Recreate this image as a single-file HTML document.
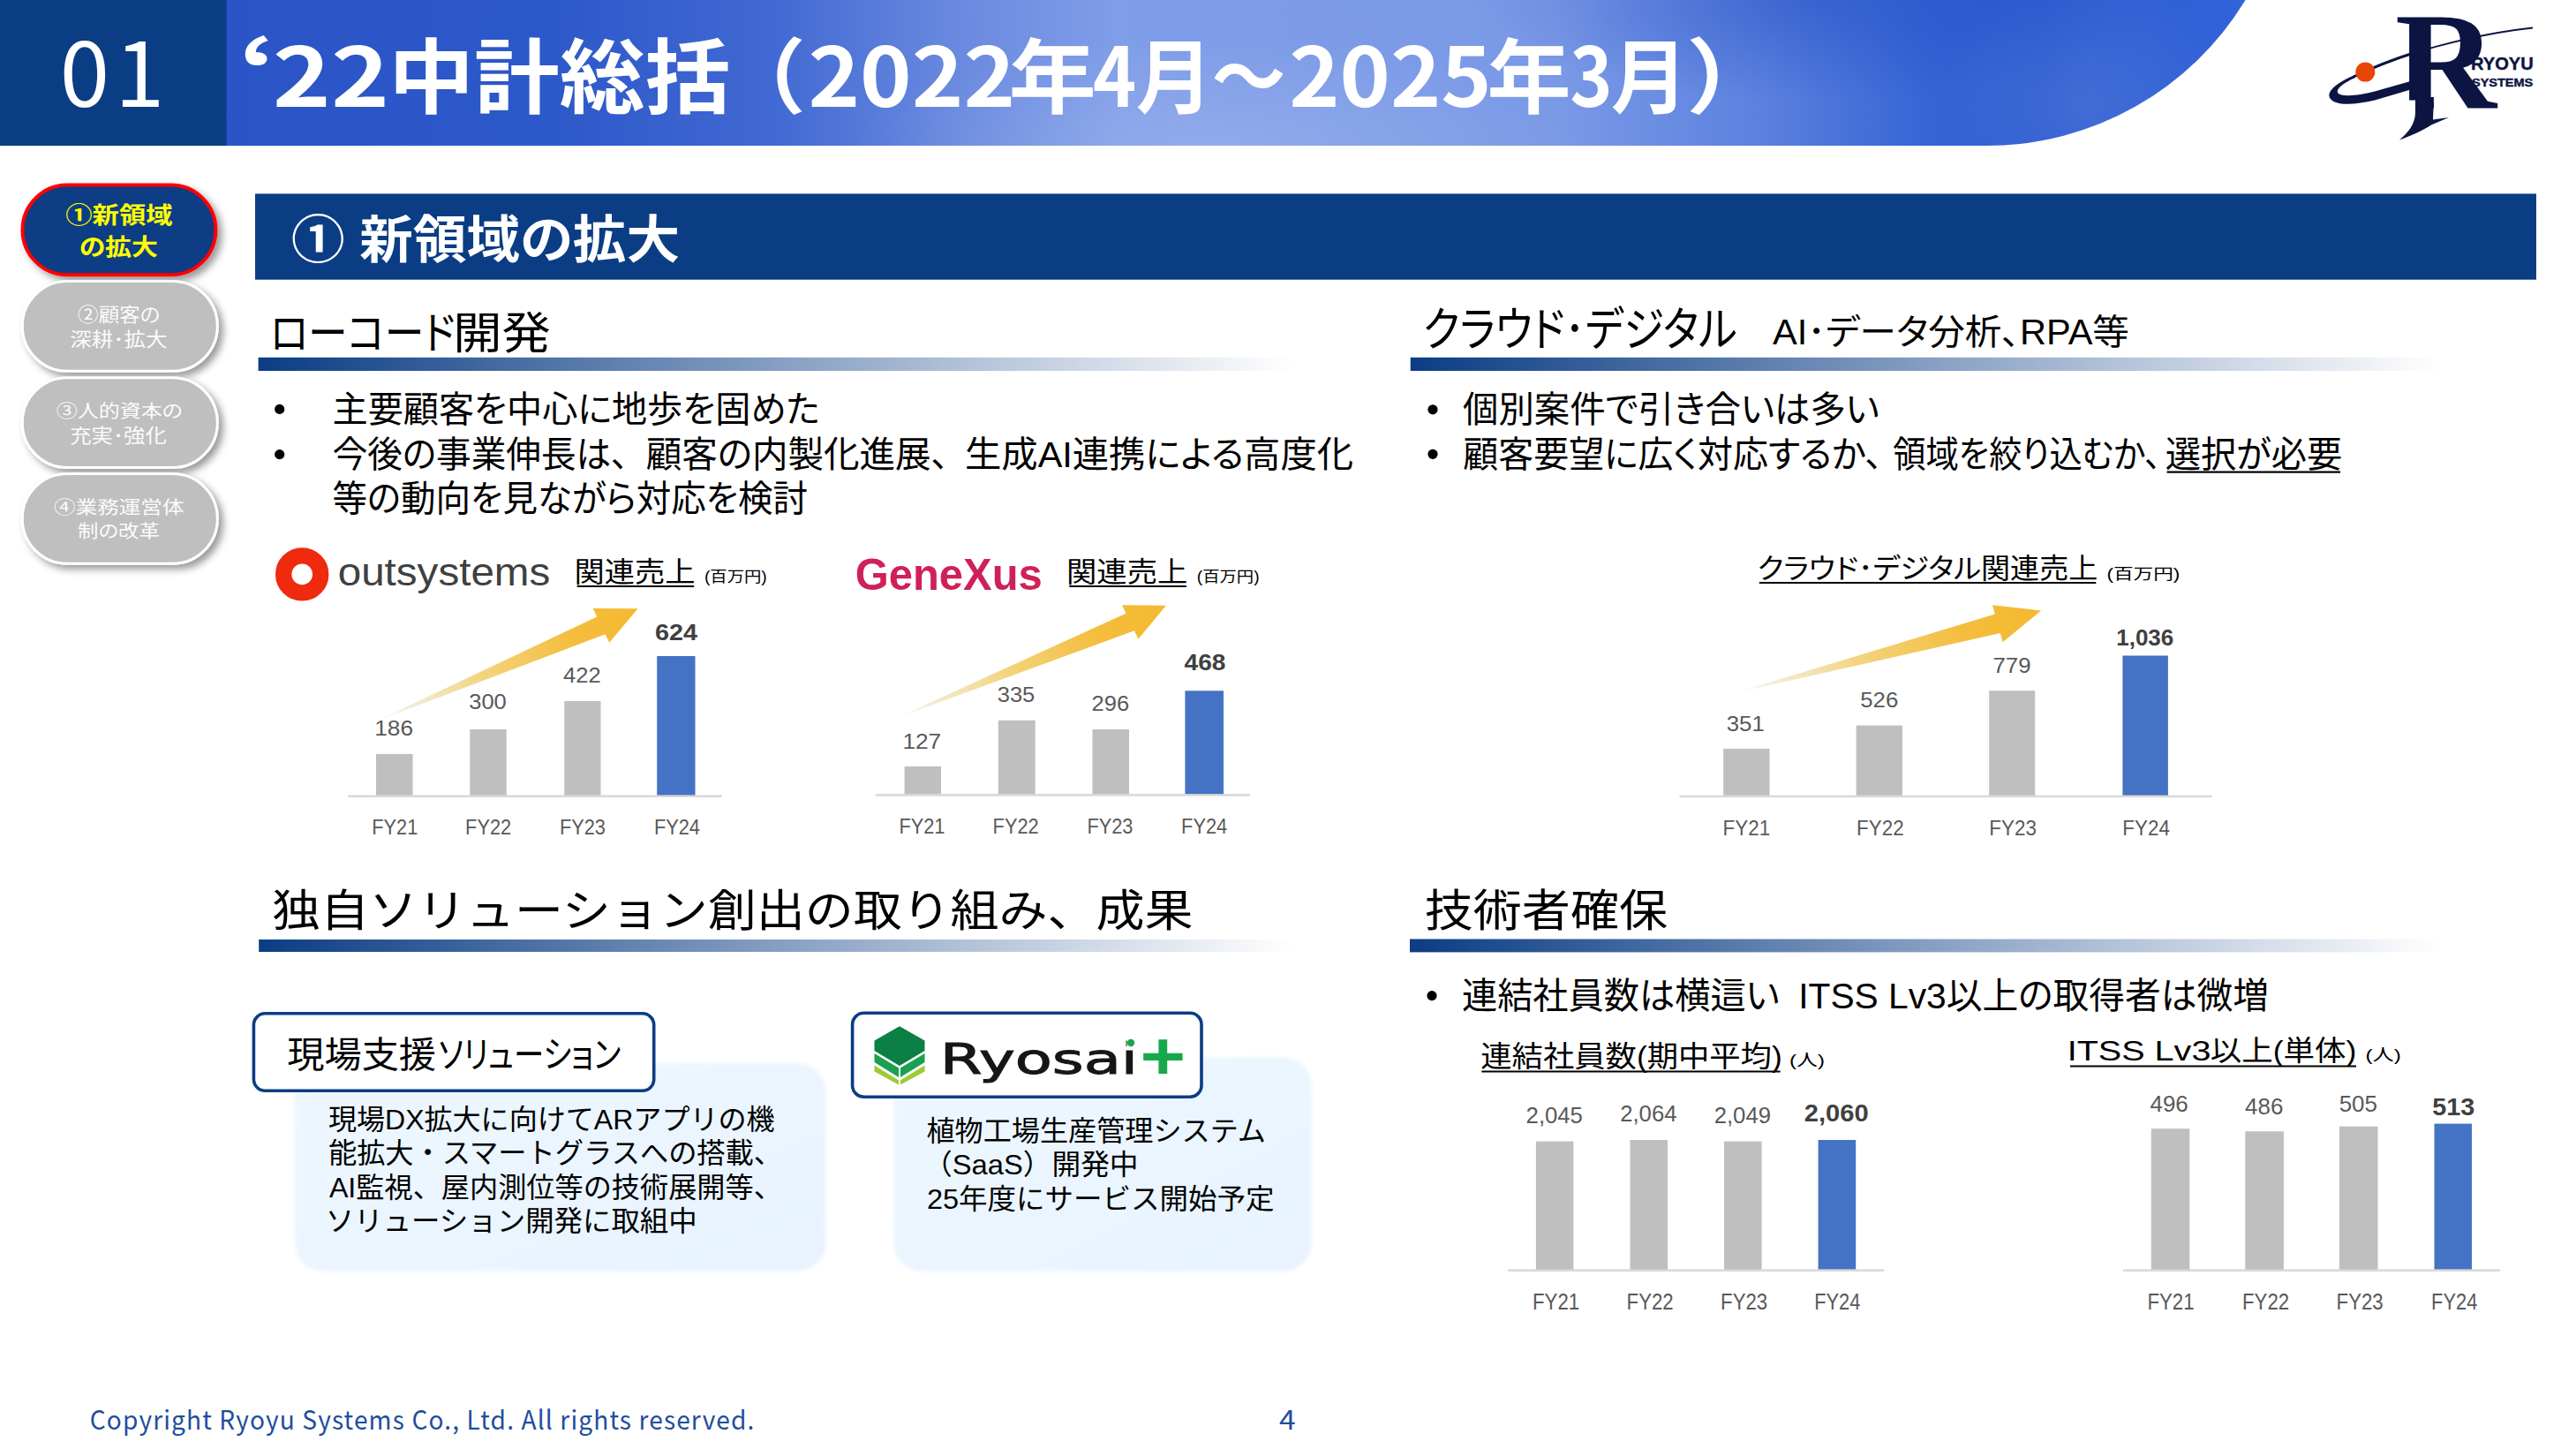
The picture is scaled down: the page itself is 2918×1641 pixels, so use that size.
<!DOCTYPE html>
<html lang="ja"><head><meta charset="utf-8"><title>'22中計総括</title>
<style>html,body{margin:0;padding:0;background:#fff;}body{width:2918px;height:1641px;overflow:hidden;}svg{display:block;}</style></head>
<body><svg width="2918" height="1641" viewBox="0 0 2918 1641">
<defs>
<linearGradient id="hg" x1="256" y1="0" x2="2545" y2="0" gradientUnits="userSpaceOnUse">
<stop offset="0" stop-color="#2b55c6"/><stop offset="0.16" stop-color="#2d58c9"/><stop offset="0.27" stop-color="#4169d3"/><stop offset="0.36" stop-color="#6989df"/>
<stop offset="0.44" stop-color="#7f9de8"/><stop offset="0.66" stop-color="#7a99e6"/><stop offset="0.76" stop-color="#5b81df"/><stop offset="0.84" stop-color="#3765d5"/>
<stop offset="0.9" stop-color="#2c5bd0"/><stop offset="1" stop-color="#3363d8"/>
</linearGradient>
<radialGradient id="hg2" cx="1380" cy="175" r="420" gradientUnits="userSpaceOnUse" gradientTransform="translate(1380 175) scale(1 0.32) translate(-1380 -175)">
<stop offset="0" stop-color="#ffffff" stop-opacity="0.16"/><stop offset="1" stop-color="#ffffff" stop-opacity="0"/>
</radialGradient>
<linearGradient id="rule" x1="0" y1="0" x2="1" y2="0">
<stop offset="0" stop-color="#0b3d84"/><stop offset="0.5" stop-color="#0b3d84" stop-opacity="0.5"/><stop offset="1" stop-color="#0b3d84" stop-opacity="0"/>
</linearGradient>
<linearGradient id="panel" x1="0" y1="0" x2="1" y2="1">
<stop offset="0" stop-color="#eef7ff"/><stop offset="1" stop-color="#e7f3ff"/>
</linearGradient>
<radialGradient id="hg3" cx="2050" cy="0" r="380" gradientUnits="userSpaceOnUse" gradientTransform="translate(2050 0) scale(1 0.3) translate(-2050 0)">
<stop offset="0" stop-color="#1c48c0" stop-opacity="0.45"/><stop offset="1" stop-color="#1c48c0" stop-opacity="0"/></radialGradient>
<radialGradient id="hg4" cx="2360" cy="120" r="160" gradientUnits="userSpaceOnUse">
<stop offset="0" stop-color="#ffffff" stop-opacity="0.10"/><stop offset="1" stop-color="#ffffff" stop-opacity="0"/></radialGradient>
<filter id="sh" x="-20%" y="-20%" width="150%" height="160%"><feDropShadow dx="5" dy="5" stdDeviation="4" flood-color="#000" flood-opacity="0.4"/></filter>
<filter id="soft" x="-5%" y="-5%" width="110%" height="110%"><feGaussianBlur stdDeviation="2.2"/></filter>
<filter id="blur1"><feGaussianBlur stdDeviation="0.7"/></filter>
</defs>
<rect x="0" y="0" width="2918" height="1641" fill="#ffffff" />
<path d="M0,0 H2543.5 A343,343 0 0 1 2250.7,165 H0 Z" fill="url(#hg)"/>
<path d="M0,0 H2543.5 A343,343 0 0 1 2250.7,165 H0 Z" fill="url(#hg2)"/>
<path d="M0,0 H2543.5 A343,343 0 0 1 2250.7,165 H0 Z" fill="url(#hg3)"/>
<path d="M0,0 H2543.5 A343,343 0 0 1 2250.7,165 H0 Z" fill="url(#hg4)"/>
<rect x="0" y="0" width="256.5" height="165" fill="#0b3d84" />
<text x="67.7" y="121.49" fill="#fff" textLength="124.7" lengthAdjust="spacingAndGlyphs" style="font-family:&quot;Noto Sans CJK JP&quot;,sans-serif;font-size:100.68px;font-weight:400;letter-spacing:6px;" >01</text>
<text y="121" fill="#fff" style="font-family:&quot;Noto Sans CJK JP&quot;,sans-serif;font-size:92.5px;font-weight:700;" ><tspan x="269.2" textLength="45.1" lengthAdjust="spacingAndGlyphs">‘</tspan><tspan x="308.8" textLength="132.2" lengthAdjust="spacingAndGlyphs">22</tspan><tspan x="440.3" textLength="387.1" lengthAdjust="spacingAndGlyphs">中計総括</tspan><tspan x="816.7" textLength="95.9" lengthAdjust="spacingAndGlyphs">（</tspan><tspan x="915.4" textLength="234.7" lengthAdjust="spacingAndGlyphs">2022</tspan><tspan x="1142.7" textLength="99.0" lengthAdjust="spacingAndGlyphs">年</tspan><tspan x="1238.0" textLength="49.3" lengthAdjust="spacingAndGlyphs">4</tspan><tspan x="1286.8" textLength="86.8" lengthAdjust="spacingAndGlyphs">月</tspan><tspan x="1372.4" textLength="83.8" lengthAdjust="spacingAndGlyphs">～</tspan><tspan x="1460.2" textLength="229.5" lengthAdjust="spacingAndGlyphs">2025</tspan><tspan x="1684.6" textLength="95.0" lengthAdjust="spacingAndGlyphs">年</tspan><tspan x="1778.4" textLength="48.1" lengthAdjust="spacingAndGlyphs">3</tspan><tspan x="1824.8" textLength="87.1" lengthAdjust="spacingAndGlyphs">月</tspan><tspan x="1910.1" textLength="105.7" lengthAdjust="spacingAndGlyphs">）</tspan></text>
<path d="M2869,31.5 C2800,39 2715,62 2666,87" fill="none" stroke="#0c1442" stroke-width="1.8"/>
<path d="M2740,58 C2715,66 2690,75 2666,87" fill="none" stroke="#0c1442" stroke-width="3"/>
<path d="M2734,91 L2690,103.5 C2672,108 2655,110 2649,106 C2645,102 2652,95 2668,88 L2666,85.5 C2645,95 2635,104 2639.5,111.5 C2646,120.5 2668,118.5 2690,113.5 L2734,100.5 Z" fill="#0c1442"/>
<text x="2712.9" y="122.5" fill="#0c1442" textLength="114.8" lengthAdjust="spacingAndGlyphs" style="font-family:&quot;Liberation Serif&quot;,serif;font-size:156.15px;font-weight:700;" >R</text>
<rect x="2710" y="113.5" width="26" height="12" fill="#fff" />
<rect x="2757" y="113.5" width="14" height="12" fill="#fff" />
<path d="M2736,110 L2757,110 L2756,135.5 L2774,133 L2754,141.5 C2744,148 2731,154 2718,158.5 C2728,150 2735.5,141 2736,128 Z" fill="#0c1442"/>
<circle cx="2679.3" cy="81.6" r="11" fill="#e8440a"/>
<text x="2799.0" y="79.2" fill="#0c1442" textLength="70.8" lengthAdjust="spacingAndGlyphs" style="font-family:&quot;Liberation Sans&quot;,sans-serif;font-size:20.42px;font-weight:700;stroke:#0c1442;stroke-width:0.4px;" >RYOYU</text>
<text x="2800.0" y="97.86" fill="#0c1442" textLength="69.3" lengthAdjust="spacingAndGlyphs" style="font-family:&quot;Liberation Sans&quot;,sans-serif;font-size:13.66px;font-weight:700;stroke:#0c1442;stroke-width:0.4px;" >SYSTEMS</text>
<rect x="25.5" y="209.6" width="218.9" height="101.6" rx="50.8" fill="#0b3d84" stroke="#ff0000" stroke-width="4" filter="url(#sh)"/>
<rect x="25.3" y="318.4" width="221.0" height="101.90000000000003" rx="50.95000000000002" fill="#bfbfbf" stroke="#ffffff" stroke-width="3" filter="url(#sh)"/>
<rect x="25.3" y="427.7" width="221.0" height="101.90000000000003" rx="50.95000000000002" fill="#bfbfbf" stroke="#ffffff" stroke-width="3" filter="url(#sh)"/>
<rect x="25.3" y="536.6" width="221.0" height="101.60000000000002" rx="50.80000000000001" fill="#bfbfbf" stroke="#ffffff" stroke-width="3" filter="url(#sh)"/>
<text x="74.3" y="253.22" fill="#ffff00" textLength="121.2" lengthAdjust="spacingAndGlyphs" style="font-family:&quot;Liberation Sans&quot;,&quot;Noto Sans CJK JP&quot;,sans-serif;font-size:25.83px;font-weight:700;font-feature-settings:'palt';" >①新領域</text>
<text x="89.7" y="289.42" fill="#ffff00" textLength="89.1" lengthAdjust="spacingAndGlyphs" style="font-family:&quot;Liberation Sans&quot;,&quot;Noto Sans CJK JP&quot;,sans-serif;font-size:25.79px;font-weight:700;font-feature-settings:'palt';" >の拡大</text>
<text x="88.1" y="364.08" fill="#fbfbfb" textLength="93.3" lengthAdjust="spacingAndGlyphs" style="font-family:&quot;Liberation Sans&quot;,&quot;Noto Sans CJK JP&quot;,sans-serif;font-size:21.28px;font-weight:400;font-feature-settings:'palt';" >②顧客の</text>
<text x="79.3" y="391.58" fill="#fbfbfb" textLength="110.2" lengthAdjust="spacingAndGlyphs" style="font-family:&quot;Liberation Sans&quot;,&quot;Noto Sans CJK JP&quot;,sans-serif;font-size:21.38px;font-weight:400;font-feature-settings:'palt';" >深耕･拡大</text>
<text x="63.7" y="472.73" fill="#fbfbfb" textLength="143.2" lengthAdjust="spacingAndGlyphs" style="font-family:&quot;Liberation Sans&quot;,&quot;Noto Sans CJK JP&quot;,sans-serif;font-size:20.74px;font-weight:400;font-feature-settings:'palt';" >③人的資本の</text>
<text x="79.2" y="500.6" fill="#fbfbfb" textLength="109.7" lengthAdjust="spacingAndGlyphs" style="font-family:&quot;Liberation Sans&quot;,&quot;Noto Sans CJK JP&quot;,sans-serif;font-size:21.06px;font-weight:400;font-feature-settings:'palt';" >充実･強化</text>
<text x="61.1" y="581.64" fill="#fbfbfb" textLength="147.4" lengthAdjust="spacingAndGlyphs" style="font-family:&quot;Liberation Sans&quot;,&quot;Noto Sans CJK JP&quot;,sans-serif;font-size:20.64px;font-weight:400;font-feature-settings:'palt';" >④業務運営体</text>
<text x="88.1" y="609.24" fill="#fbfbfb" textLength="92.8" lengthAdjust="spacingAndGlyphs" style="font-family:&quot;Liberation Sans&quot;,&quot;Noto Sans CJK JP&quot;,sans-serif;font-size:20.64px;font-weight:400;font-feature-settings:'palt';" >制の改革</text>
<rect x="289" y="219.4" width="2584" height="97.29999999999998" fill="#0b3d84" />
<text x="329.9" y="292.2" fill="#fff" textLength="440.1" lengthAdjust="spacingAndGlyphs" style="font-family:&quot;Liberation Sans&quot;,&quot;Noto Sans CJK JP&quot;,sans-serif;font-size:57.4px;font-weight:700;font-feature-settings:'palt';" >① 新領域の拡大</text>
<rect x="292.6" y="404.8" width="1172.4" height="15.199999999999989" fill="url(#rule)"/>
<rect x="1597.7" y="404.8" width="1167.3" height="15.199999999999989" fill="url(#rule)"/>
<rect x="293.2" y="1064" width="1171.8" height="14" fill="url(#rule)"/>
<rect x="1597" y="1063.5" width="1168" height="14.900000000000091" fill="url(#rule)"/>
<text y="394.6" fill="#000" style="font-family:&quot;Liberation Sans&quot;,&quot;Noto Sans CJK JP&quot;,sans-serif;font-size:50px;font-weight:400;font-feature-settings:'palt';" ><tspan x="305.8" textLength="209.7" lengthAdjust="spacingAndGlyphs">ローコード</tspan><tspan x="513.2" textLength="110.5" lengthAdjust="spacingAndGlyphs">開発</tspan></text>
<text x="1611.8" y="391.8" fill="#000" textLength="355.9" lengthAdjust="spacingAndGlyphs" style="font-family:&quot;Liberation Sans&quot;,&quot;Noto Sans CJK JP&quot;,sans-serif;font-size:53px;font-weight:400;font-feature-settings:'palt';" >クラウド･デジタル</text>
<text x="2008.0" y="390" fill="#000" textLength="403.9" lengthAdjust="spacingAndGlyphs" style="font-family:&quot;Liberation Sans&quot;,&quot;Noto Sans CJK JP&quot;,sans-serif;font-size:40px;font-weight:400;font-feature-settings:'palt';" >AI･データ分析、RPA等</text>
<text x="308.1" y="1049.4" fill="#000" textLength="1043.4" lengthAdjust="spacingAndGlyphs" style="font-family:&quot;Liberation Sans&quot;,&quot;Noto Sans CJK JP&quot;,sans-serif;font-size:50.5px;font-weight:400;" >独自ソリューション創出の取り組み、成果</text>
<text x="1613.7" y="1049.4" fill="#000" textLength="275.4" lengthAdjust="spacingAndGlyphs" style="font-family:&quot;Liberation Sans&quot;,&quot;Noto Sans CJK JP&quot;,sans-serif;font-size:50.5px;font-weight:400;" >技術者確保</text>
<text x="376.5" y="478.2" fill="#000" textLength="552.2" lengthAdjust="spacingAndGlyphs" style="font-family:&quot;Liberation Sans&quot;,&quot;Noto Sans CJK JP&quot;,sans-serif;font-size:41.2px;font-weight:400;font-feature-settings:'palt';" >主要顧客を中心に地歩を固めた</text>
<text y="528.7" fill="#000" style="font-family:&quot;Liberation Sans&quot;,&quot;Noto Sans CJK JP&quot;,sans-serif;font-size:41.2px;font-weight:400;font-feature-settings:'palt';" ><tspan x="376.7" textLength="335.3" lengthAdjust="spacingAndGlyphs">今後の事業伸長は、</tspan><tspan x="731.8" textLength="343.1" lengthAdjust="spacingAndGlyphs">顧客の内製化進展、</tspan><tspan x="1093.0" textLength="440.1" lengthAdjust="spacingAndGlyphs">生成AI連携による高度化</tspan></text>
<text x="376.5" y="579.1" fill="#000" textLength="538.6" lengthAdjust="spacingAndGlyphs" style="font-family:&quot;Liberation Sans&quot;,&quot;Noto Sans CJK JP&quot;,sans-serif;font-size:41.2px;font-weight:400;font-feature-settings:'palt';" >等の動向を見ながら対応を検討</text>
<circle cx="316.7" cy="463.4" r="5.6" fill="#000"/>
<circle cx="316.7" cy="514.6" r="5.6" fill="#000"/>
<text x="1657.0" y="478" fill="#000" textLength="471.9" lengthAdjust="spacingAndGlyphs" style="font-family:&quot;Liberation Sans&quot;,&quot;Noto Sans CJK JP&quot;,sans-serif;font-size:41.2px;font-weight:400;font-feature-settings:'palt';" >個別案件で引き合いは多い</text>
<text y="528.7" fill="#000" style="font-family:&quot;Liberation Sans&quot;,&quot;Noto Sans CJK JP&quot;,sans-serif;font-size:41.2px;font-weight:400;font-feature-settings:'palt';" ><tspan x="1657.3" textLength="475.4" lengthAdjust="spacingAndGlyphs">顧客要望に広く対応するか、</tspan><tspan x="2144.2" textLength="303.9" lengthAdjust="spacingAndGlyphs">領域を絞り込むか、</tspan><tspan x="2452.7" textLength="200.5" lengthAdjust="spacingAndGlyphs">選択が必要</tspan></text>
<rect x="2454.6" y="533.5" width="196.4000000000001" height="2.2" fill="#000" />
<circle cx="1623" cy="463.8" r="5.6" fill="#000"/>
<circle cx="1623" cy="514.3" r="5.6" fill="#000"/>
<text y="1141.7" fill="#000" style="font-family:&quot;Liberation Sans&quot;,&quot;Noto Sans CJK JP&quot;,sans-serif;font-size:41.2px;font-weight:400;font-feature-settings:'palt';" ><tspan x="1655.9" textLength="359.9" lengthAdjust="spacingAndGlyphs">連結社員数は横這い</tspan><tspan x="2037.2" textLength="532.8" lengthAdjust="spacingAndGlyphs">ITSS Lv3以上の取得者は微増</tspan></text>
<circle cx="1622" cy="1127.6" r="5.6" fill="#000"/>
<circle cx="342.2" cy="650.4" r="21" fill="none" stroke="#ef2a0e" stroke-width="18.4"/>
<text x="382.7" y="663" fill="#404040" textLength="240.6" lengthAdjust="spacingAndGlyphs" style="font-family:&quot;Liberation Sans&quot;,sans-serif;font-size:43.5px;font-weight:400;" >outsystems</text>
<text x="968.8" y="667.7" fill="#cf2158" textLength="211.9" lengthAdjust="spacingAndGlyphs" style="font-family:&quot;Liberation Sans&quot;,sans-serif;font-size:49.9px;font-weight:700;" >GeneXus</text>
<text x="650.4" y="659.1" fill="#000" textLength="137.1" lengthAdjust="spacingAndGlyphs" style="font-family:&quot;Liberation Sans&quot;,&quot;Noto Sans CJK JP&quot;,sans-serif;font-size:31.3px;font-weight:400;font-feature-settings:'palt';" >関連売上</text>
<rect x="653.7" y="663" width="132.5" height="2" fill="#000" />
<text x="797.9" y="659.2" fill="#000" textLength="70.9" lengthAdjust="spacingAndGlyphs" style="font-family:&quot;Liberation Sans&quot;,&quot;Noto Sans CJK JP&quot;,sans-serif;font-size:17.5px;font-weight:400;" >(百万円)</text>
<text x="1208.0" y="659.1" fill="#000" textLength="137.3" lengthAdjust="spacingAndGlyphs" style="font-family:&quot;Liberation Sans&quot;,&quot;Noto Sans CJK JP&quot;,sans-serif;font-size:31.3px;font-weight:400;font-feature-settings:'palt';" >関連売上</text>
<rect x="1211.3" y="663" width="132.70000000000005" height="2" fill="#000" />
<text x="1355.7" y="659.2" fill="#000" textLength="70.9" lengthAdjust="spacingAndGlyphs" style="font-family:&quot;Liberation Sans&quot;,&quot;Noto Sans CJK JP&quot;,sans-serif;font-size:17.5px;font-weight:400;" >(百万円)</text>
<text x="1990.7" y="654.8" fill="#000" textLength="385.6" lengthAdjust="spacingAndGlyphs" style="font-family:&quot;Liberation Sans&quot;,&quot;Noto Sans CJK JP&quot;,sans-serif;font-size:31.3px;font-weight:400;font-feature-settings:'palt';" >クラウド･デジタル関連売上</text>
<rect x="1992.8" y="659" width="381.5000000000002" height="2" fill="#000" />
<text x="2386.4" y="655.5" fill="#000" textLength="83.0" lengthAdjust="spacingAndGlyphs" style="font-family:&quot;Liberation Sans&quot;,&quot;Noto Sans CJK JP&quot;,sans-serif;font-size:17.5px;font-weight:400;" >(百万円)</text>
<text x="1677.3" y="1207.5" fill="#000" textLength="341.4" lengthAdjust="spacingAndGlyphs" style="font-family:&quot;Liberation Sans&quot;,&quot;Noto Sans CJK JP&quot;,sans-serif;font-size:33px;font-weight:400;font-feature-settings:'palt';" >連結社員数(期中平均)</text>
<rect x="1678.4" y="1212.5" width="338.1999999999998" height="2" fill="#000" />
<text x="2027.1" y="1207" fill="#000" textLength="39.8" lengthAdjust="spacingAndGlyphs" style="font-family:&quot;Liberation Sans&quot;,&quot;Noto Sans CJK JP&quot;,sans-serif;font-size:18.5px;font-weight:400;" >(人)</text>
<text y="1200.5" fill="#000" style="font-family:&quot;Liberation Sans&quot;,&quot;Noto Sans CJK JP&quot;,sans-serif;font-size:32px;font-weight:400;font-feature-settings:'palt';" ><tspan x="2341.7" textLength="162.7" lengthAdjust="spacingAndGlyphs">ITSS Lv3</tspan><tspan x="2503.7" textLength="165.7" lengthAdjust="spacingAndGlyphs">以上(単体)</tspan></text>
<rect x="2345" y="1206.5" width="324" height="2" fill="#000" />
<text x="2679.4" y="1201" fill="#000" textLength="40.3" lengthAdjust="spacingAndGlyphs" style="font-family:&quot;Liberation Sans&quot;,&quot;Noto Sans CJK JP&quot;,sans-serif;font-size:18.5px;font-weight:400;" >(人)</text>
<defs><linearGradient id="ag1" gradientUnits="userSpaceOnUse" x1="423.7" y1="817.8" x2="722.5" y2="689.3"><stop offset="0" stop-color="#e9e7d5" stop-opacity="0"/><stop offset="0.14" stop-color="#ece6c8" stop-opacity="0.75"/><stop offset="0.4" stop-color="#f3d27a" stop-opacity="0.95"/><stop offset="0.75" stop-color="#f4bd3c"/><stop offset="1" stop-color="#f4b92f"/></linearGradient></defs>
<polygon points="423.7,817.8 676.2,698.4 671.6,688.9 722.5,689.3 690.2,727.8 685.6,718.3" fill="url(#ag1)"/>
<rect x="426" y="853.9" width="41.5" height="47.7" fill="#bfbfbf" />
<rect x="532.3" y="826" width="41.4" height="75.6" fill="#bfbfbf" />
<rect x="639.3" y="794" width="41.2" height="107.6" fill="#bfbfbf" />
<rect x="744.2" y="743" width="43.3" height="158.6" fill="#4472c4" />
<rect x="394" y="900.4" width="423.6" height="2.6" fill="#d9d9d9" />
<text x="424.2" y="832.9" fill="#595959" textLength="43.8" lengthAdjust="spacingAndGlyphs" style="font-family:&quot;Liberation Sans&quot;,sans-serif;font-size:23.8px;font-weight:400;" >186</text>
<text x="421.2" y="944.8" fill="#595959" textLength="52.1" lengthAdjust="spacingAndGlyphs" style="font-family:&quot;Liberation Sans&quot;,sans-serif;font-size:24.2px;font-weight:400;" >FY21</text>
<text x="531.2" y="803.2" fill="#595959" textLength="42.6" lengthAdjust="spacingAndGlyphs" style="font-family:&quot;Liberation Sans&quot;,sans-serif;font-size:23.8px;font-weight:400;" >300</text>
<text x="527.1" y="944.8" fill="#595959" textLength="52.1" lengthAdjust="spacingAndGlyphs" style="font-family:&quot;Liberation Sans&quot;,sans-serif;font-size:24.2px;font-weight:400;" >FY22</text>
<text x="638.0" y="773" fill="#595959" textLength="42.6" lengthAdjust="spacingAndGlyphs" style="font-family:&quot;Liberation Sans&quot;,sans-serif;font-size:23.8px;font-weight:400;" >422</text>
<text x="633.9" y="944.8" fill="#595959" textLength="52.1" lengthAdjust="spacingAndGlyphs" style="font-family:&quot;Liberation Sans&quot;,sans-serif;font-size:24.2px;font-weight:400;" >FY23</text>
<text x="742.1" y="725" fill="#404040" textLength="48.0" lengthAdjust="spacingAndGlyphs" style="font-family:&quot;Liberation Sans&quot;,sans-serif;font-size:26.0px;font-weight:700;" >624</text>
<text x="740.9" y="944.8" fill="#595959" textLength="52.1" lengthAdjust="spacingAndGlyphs" style="font-family:&quot;Liberation Sans&quot;,sans-serif;font-size:24.2px;font-weight:400;" >FY24</text>
<defs><linearGradient id="ag2" gradientUnits="userSpaceOnUse" x1="1012" y1="814.5" x2="1320.9" y2="685.8"><stop offset="0" stop-color="#e9e7d5" stop-opacity="0"/><stop offset="0.14" stop-color="#ece6c8" stop-opacity="0.75"/><stop offset="0.4" stop-color="#f3d27a" stop-opacity="0.95"/><stop offset="0.75" stop-color="#f4bd3c"/><stop offset="1" stop-color="#f4b92f"/></linearGradient></defs>
<polygon points="1012.0,814.5 1275.5,694.7 1271.0,685.2 1320.9,685.8 1289.4,723.8 1284.9,714.3" fill="url(#ag2)"/>
<rect x="1024.6" y="868" width="41.4" height="32.3" fill="#bfbfbf" />
<rect x="1130.8" y="815.8" width="41.9" height="84.5" fill="#bfbfbf" />
<rect x="1237.5" y="826" width="41.5" height="74.3" fill="#bfbfbf" />
<rect x="1342.4" y="782.3" width="43.6" height="118.0" fill="#4472c4" />
<rect x="991.8" y="899.0999999999999" width="424.20000000000005" height="2.6" fill="#d9d9d9" />
<text x="1022.4" y="847.8" fill="#595959" textLength="43.8" lengthAdjust="spacingAndGlyphs" style="font-family:&quot;Liberation Sans&quot;,sans-serif;font-size:23.8px;font-weight:400;" >127</text>
<text x="1018.4" y="944" fill="#595959" textLength="52.1" lengthAdjust="spacingAndGlyphs" style="font-family:&quot;Liberation Sans&quot;,sans-serif;font-size:24.2px;font-weight:400;" >FY21</text>
<text x="1129.7" y="795.4" fill="#595959" textLength="42.6" lengthAdjust="spacingAndGlyphs" style="font-family:&quot;Liberation Sans&quot;,sans-serif;font-size:23.8px;font-weight:400;" >335</text>
<text x="1124.6" y="944" fill="#595959" textLength="52.1" lengthAdjust="spacingAndGlyphs" style="font-family:&quot;Liberation Sans&quot;,sans-serif;font-size:24.2px;font-weight:400;" >FY22</text>
<text x="1236.5" y="805.3" fill="#595959" textLength="42.6" lengthAdjust="spacingAndGlyphs" style="font-family:&quot;Liberation Sans&quot;,sans-serif;font-size:23.8px;font-weight:400;" >296</text>
<text x="1231.4" y="944" fill="#595959" textLength="52.1" lengthAdjust="spacingAndGlyphs" style="font-family:&quot;Liberation Sans&quot;,sans-serif;font-size:24.2px;font-weight:400;" >FY23</text>
<text x="1341.5" y="759.4" fill="#404040" textLength="46.9" lengthAdjust="spacingAndGlyphs" style="font-family:&quot;Liberation Sans&quot;,sans-serif;font-size:26.0px;font-weight:700;" >468</text>
<text x="1338.1" y="944" fill="#595959" textLength="52.1" lengthAdjust="spacingAndGlyphs" style="font-family:&quot;Liberation Sans&quot;,sans-serif;font-size:24.2px;font-weight:400;" >FY24</text>
<defs><linearGradient id="ag3" gradientUnits="userSpaceOnUse" x1="1962" y1="785.6" x2="2312.2" y2="691.4"><stop offset="0" stop-color="#e9e7d5" stop-opacity="0"/><stop offset="0.14" stop-color="#ece6c8" stop-opacity="0.75"/><stop offset="0.4" stop-color="#f3d27a" stop-opacity="0.95"/><stop offset="0.75" stop-color="#f4bd3c"/><stop offset="1" stop-color="#f4b92f"/></linearGradient></defs>
<polygon points="1962.0,785.6 2259.8,695.5 2256.9,685.2 2312.2,691.4 2268.6,727.2 2265.7,716.9" fill="url(#ag3)"/>
<rect x="1952.2" y="847.9" width="52.3" height="53.9" fill="#bfbfbf" />
<rect x="2102.6" y="821.6" width="52.3" height="80.2" fill="#bfbfbf" />
<rect x="2253.2" y="782.2" width="52.0" height="119.6" fill="#bfbfbf" />
<rect x="2404.4" y="742.5" width="51.5" height="159.3" fill="#4472c4" />
<rect x="1902.5" y="900.5999999999999" width="603.0999999999999" height="2.6" fill="#d9d9d9" />
<text x="1955.7" y="827.8" fill="#595959" textLength="43.1" lengthAdjust="spacingAndGlyphs" style="font-family:&quot;Liberation Sans&quot;,sans-serif;font-size:23.8px;font-weight:400;" >351</text>
<text x="1951.5" y="946" fill="#595959" textLength="53.6" lengthAdjust="spacingAndGlyphs" style="font-family:&quot;Liberation Sans&quot;,sans-serif;font-size:24.2px;font-weight:400;" >FY21</text>
<text x="2107.2" y="801.2" fill="#595959" textLength="43.1" lengthAdjust="spacingAndGlyphs" style="font-family:&quot;Liberation Sans&quot;,sans-serif;font-size:23.8px;font-weight:400;" >526</text>
<text x="2103.0" y="946" fill="#595959" textLength="53.6" lengthAdjust="spacingAndGlyphs" style="font-family:&quot;Liberation Sans&quot;,sans-serif;font-size:24.2px;font-weight:400;" >FY22</text>
<text x="2257.5" y="761.5" fill="#595959" textLength="43.1" lengthAdjust="spacingAndGlyphs" style="font-family:&quot;Liberation Sans&quot;,sans-serif;font-size:23.8px;font-weight:400;" >779</text>
<text x="2253.3" y="946" fill="#595959" textLength="53.6" lengthAdjust="spacingAndGlyphs" style="font-family:&quot;Liberation Sans&quot;,sans-serif;font-size:24.2px;font-weight:400;" >FY23</text>
<text x="2397.2" y="731.4" fill="#404040" textLength="65.1" lengthAdjust="spacingAndGlyphs" style="font-family:&quot;Liberation Sans&quot;,sans-serif;font-size:26.0px;font-weight:700;" >1,036</text>
<text x="2404.3" y="946" fill="#595959" textLength="53.6" lengthAdjust="spacingAndGlyphs" style="font-family:&quot;Liberation Sans&quot;,sans-serif;font-size:24.2px;font-weight:400;" >FY24</text>
<rect x="1739.9" y="1292.6" width="42.5" height="146.0" fill="#bfbfbf" />
<rect x="1846.5" y="1291" width="42.5" height="147.6" fill="#bfbfbf" />
<rect x="1953" y="1292.6" width="42.6" height="146.0" fill="#bfbfbf" />
<rect x="2059.6" y="1291" width="42.6" height="147.6" fill="#4472c4" />
<rect x="1708.1" y="1437.3999999999999" width="426.3000000000002" height="2.6" fill="#d9d9d9" />
<text x="1728.6" y="1271.8" fill="#595959" textLength="64.3" lengthAdjust="spacingAndGlyphs" style="font-family:&quot;Liberation Sans&quot;,sans-serif;font-size:25.5px;font-weight:400;" >2,045</text>
<text x="1736.0" y="1482.8" fill="#595959" textLength="53.1" lengthAdjust="spacingAndGlyphs" style="font-family:&quot;Liberation Sans&quot;,sans-serif;font-size:25.2px;font-weight:400;" >FY21</text>
<text x="1835.2" y="1270" fill="#595959" textLength="64.3" lengthAdjust="spacingAndGlyphs" style="font-family:&quot;Liberation Sans&quot;,sans-serif;font-size:25.5px;font-weight:400;" >2,064</text>
<text x="1842.6" y="1482.8" fill="#595959" textLength="53.1" lengthAdjust="spacingAndGlyphs" style="font-family:&quot;Liberation Sans&quot;,sans-serif;font-size:25.2px;font-weight:400;" >FY22</text>
<text x="1941.7" y="1271.8" fill="#595959" textLength="64.3" lengthAdjust="spacingAndGlyphs" style="font-family:&quot;Liberation Sans&quot;,sans-serif;font-size:25.5px;font-weight:400;" >2,049</text>
<text x="1949.1" y="1482.8" fill="#595959" textLength="53.1" lengthAdjust="spacingAndGlyphs" style="font-family:&quot;Liberation Sans&quot;,sans-serif;font-size:25.2px;font-weight:400;" >FY23</text>
<text x="2043.8" y="1270" fill="#404040" textLength="72.9" lengthAdjust="spacingAndGlyphs" style="font-family:&quot;Liberation Sans&quot;,sans-serif;font-size:27.7px;font-weight:700;" >2,060</text>
<text x="2055.2" y="1482.8" fill="#595959" textLength="52.2" lengthAdjust="spacingAndGlyphs" style="font-family:&quot;Liberation Sans&quot;,sans-serif;font-size:25.2px;font-weight:400;" >FY24</text>
<rect x="2436.8" y="1278.2" width="43.5" height="160.4" fill="#bfbfbf" />
<rect x="2543.3" y="1281.3" width="43.6" height="157.3" fill="#bfbfbf" />
<rect x="2649.9" y="1275.7" width="43.6" height="162.9" fill="#bfbfbf" />
<rect x="2757.5" y="1272.6" width="42.5" height="166.0" fill="#4472c4" />
<rect x="2405" y="1437.3999999999999" width="426.9000000000001" height="2.6" fill="#d9d9d9" />
<text x="2435.5" y="1259.3" fill="#595959" textLength="43.3" lengthAdjust="spacingAndGlyphs" style="font-family:&quot;Liberation Sans&quot;,sans-serif;font-size:25px;font-weight:400;" >496</text>
<text x="2432.4" y="1482.8" fill="#595959" textLength="53.1" lengthAdjust="spacingAndGlyphs" style="font-family:&quot;Liberation Sans&quot;,sans-serif;font-size:25.2px;font-weight:400;" >FY21</text>
<text x="2543.1" y="1261.8" fill="#595959" textLength="43.3" lengthAdjust="spacingAndGlyphs" style="font-family:&quot;Liberation Sans&quot;,sans-serif;font-size:25px;font-weight:400;" >486</text>
<text x="2540.0" y="1482.8" fill="#595959" textLength="53.1" lengthAdjust="spacingAndGlyphs" style="font-family:&quot;Liberation Sans&quot;,sans-serif;font-size:25.2px;font-weight:400;" >FY22</text>
<text x="2649.7" y="1258.5" fill="#595959" textLength="43.3" lengthAdjust="spacingAndGlyphs" style="font-family:&quot;Liberation Sans&quot;,sans-serif;font-size:25px;font-weight:400;" >505</text>
<text x="2646.6" y="1482.8" fill="#595959" textLength="53.1" lengthAdjust="spacingAndGlyphs" style="font-family:&quot;Liberation Sans&quot;,sans-serif;font-size:25.2px;font-weight:400;" >FY23</text>
<text x="2755.2" y="1262.9" fill="#404040" textLength="48.0" lengthAdjust="spacingAndGlyphs" style="font-family:&quot;Liberation Sans&quot;,sans-serif;font-size:27.2px;font-weight:700;" >513</text>
<text x="2754.1" y="1482.8" fill="#595959" textLength="52.2" lengthAdjust="spacingAndGlyphs" style="font-family:&quot;Liberation Sans&quot;,sans-serif;font-size:25.2px;font-weight:400;" >FY24</text>
<rect x="333.8" y="1204" width="601.6" height="235.8" rx="32" fill="url(#panel)" filter="url(#soft)"/>
<rect x="1012.2" y="1197.7" width="473.5" height="242.1" rx="32" fill="url(#panel)" filter="url(#soft)"/>
<rect x="287.4" y="1147.8" width="453.3" height="87.5" rx="13" fill="#fff" stroke="#0b3d84" stroke-width="3.6"/>
<rect x="965.6" y="1147.3" width="395.4" height="94.9" rx="13" fill="#fff" stroke="#0b3d84" stroke-width="3.6"/>
<text y="1209.2" fill="#000" style="font-family:&quot;Liberation Sans&quot;,&quot;Noto Sans CJK JP&quot;,sans-serif;font-size:41.4px;font-weight:400;font-feature-settings:'palt';" ><tspan x="325.2" textLength="168.9" lengthAdjust="spacingAndGlyphs">現場支援</tspan><tspan x="496.6" textLength="206.5" lengthAdjust="spacingAndGlyphs">ソリューション</tspan></text>
<text x="371.9" y="1278.9" fill="#000" textLength="505.7" lengthAdjust="spacingAndGlyphs" style="font-family:&quot;Liberation Sans&quot;,&quot;Noto Sans CJK JP&quot;,sans-serif;font-size:32px;font-weight:400;" >現場DX拡大に向けてARアプリの機</text>
<text x="371.9" y="1317.2" fill="#000" textLength="514.2" lengthAdjust="spacingAndGlyphs" style="font-family:&quot;Liberation Sans&quot;,&quot;Noto Sans CJK JP&quot;,sans-serif;font-size:32px;font-weight:400;" >能拡大・スマートグラスへの搭載、</text>
<text x="372.9" y="1355.5" fill="#000" textLength="513.0" lengthAdjust="spacingAndGlyphs" style="font-family:&quot;Liberation Sans&quot;,&quot;Noto Sans CJK JP&quot;,sans-serif;font-size:32px;font-weight:400;" >AI監視、屋内測位等の技術展開等、</text>
<text x="368.8" y="1393.8" fill="#000" textLength="420.9" lengthAdjust="spacingAndGlyphs" style="font-family:&quot;Liberation Sans&quot;,&quot;Noto Sans CJK JP&quot;,sans-serif;font-size:32px;font-weight:400;" >ソリューション開発に取組中</text>
<text x="1049.4" y="1292" fill="#000" textLength="384.6" lengthAdjust="spacingAndGlyphs" style="font-family:&quot;Liberation Sans&quot;,&quot;Noto Sans CJK JP&quot;,sans-serif;font-size:32px;font-weight:400;" >植物工場生産管理システム</text>
<text x="1046.0" y="1330.3" fill="#000" textLength="243.6" lengthAdjust="spacingAndGlyphs" style="font-family:&quot;Liberation Sans&quot;,&quot;Noto Sans CJK JP&quot;,sans-serif;font-size:32px;font-weight:400;" >（SaaS）開発中</text>
<text x="1049.9" y="1368.6" fill="#000" textLength="393.5" lengthAdjust="spacingAndGlyphs" style="font-family:&quot;Liberation Sans&quot;,&quot;Noto Sans CJK JP&quot;,sans-serif;font-size:32px;font-weight:400;" >25年度にサービス開始予定</text>
<polygon points="1019,1162.3 1047.5,1178.5 1047.5,1190 1019,1207 990.5,1190 990.5,1178.5" fill="#0a8044"/>
<polygon points="990.5,1193 1019,1210 1047.5,1193 1047.5,1203 1019,1220.5 990.5,1203" fill="#1aa04e"/>
<polygon points="990.5,1206.5 1019,1224 1047.5,1206.5 1047.5,1213.5 1019,1229 990.5,1213.5" fill="#9acd32"/>
<path d="M1019,1208 V1229" stroke="#fff" stroke-width="2"/>
<text x="1064.8" y="1215.6" fill="#151515" textLength="224.2" lengthAdjust="spacingAndGlyphs" style="font-family:&quot;DejaVu Sans&quot;,sans-serif;font-size:48px;font-weight:400;stroke:#151515;stroke-width:1px;" filter="url(#blur1)">Ryosai</text>
<rect x="1276.5" y="1176" width="9" height="9.5" fill="#fff" />
<circle cx="1281" cy="1181" r="4.2" fill="#17a84b"/>
<text x="1291.5" y="1221.62" fill="#17a84b" textLength="51.6" lengthAdjust="spacingAndGlyphs" style="font-family:&quot;Liberation Sans&quot;,sans-serif;font-size:75.29px;font-weight:700;" >+</text>
<text x="101.8" y="1618.5" fill="#1f4e9e" textLength="753.7" lengthAdjust="spacingAndGlyphs" style="font-family:&quot;Noto Sans CJK JP&quot;,sans-serif;font-size:29.5px;font-weight:400;letter-spacing:1.2px;" >Copyright Ryoyu Systems Co., Ltd. All rights reserved.</text>
<text x="1448.9" y="1618.5" fill="#1f4e9e" textLength="18.6" lengthAdjust="spacingAndGlyphs" style="font-family:&quot;Noto Sans CJK JP&quot;,sans-serif;font-size:29.5px;font-weight:400;" >4</text>
</svg></body></html>
